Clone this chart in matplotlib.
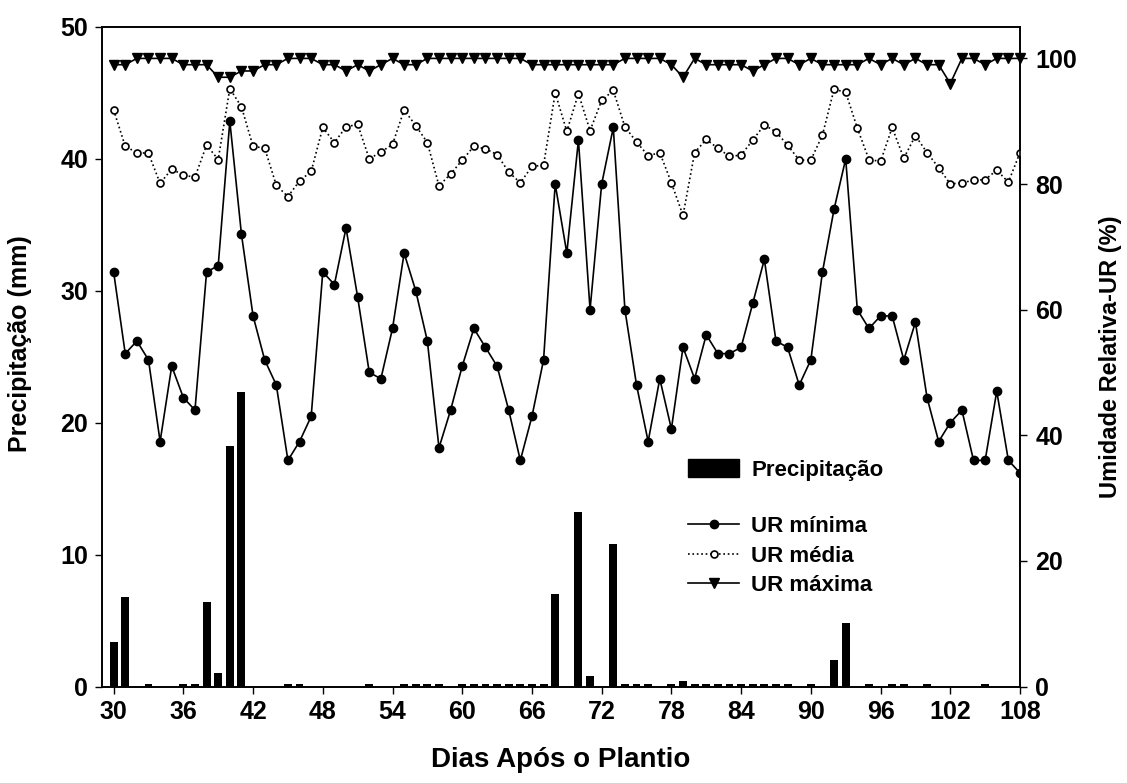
import matplotlib
matplotlib.use("Agg")
import matplotlib.pyplot as plt
from matplotlib.patches import Patch
from matplotlib.lines import Line2D
import numpy as np

plt.rcParams['font.family'] = ['Liberation Sans', 'DejaVu Sans']
plt.rcParams['font.weight'] = 'bold'

days = list(range(30, 109))

precip = [3.4, 6.8, 0, 0.2, 0, 0, 0.2, 0.2, 6.4, 1.0,   # 30-39
          18.2, 22.3, 0, 0, 0, 0.2, 0.2, 0, 0, 0,        # 40-49
          0, 0, 0.2, 0, 0, 0.2, 0.2, 0.2, 0.2, 0,        # 50-59
          0.2, 0.2, 0.2, 0.2, 0.2, 0.2, 0.2, 0.2, 7.0, 0, # 60-69
          13.2, 0.8, 0, 10.8, 0.2, 0.2, 0.2, 0, 0.2, 0.4, # 70-79
          0.2, 0.2, 0.2, 0.2, 0.2, 0.2, 0.2, 0.2, 0.2, 0, # 80-89
          0.2, 0, 2.0, 4.8, 0, 0.2, 0, 0.2, 0.2, 0,       # 90-99
          0.2, 0, 0, 0, 0, 0.2, 0, 0, 0]                 # 100-108

ur_min = [66, 53, 55, 52, 39, 51, 46, 44, 66, 67,
          90, 72, 59, 52, 48, 36, 39, 43, 66, 64,
          73, 62, 50, 49, 57, 69, 63, 55, 38, 44,
          51, 57, 54, 51, 44, 36, 43, 52, 80, 69,
          87, 60, 80, 89, 60, 48, 39, 49, 41, 54,
          49, 56, 53, 53, 54, 61, 68, 55, 54, 48,
          52, 66, 76, 84, 60, 57, 59, 59, 52, 58,
          46, 39, 42, 44, 36, 36, 47, 36, 34]

ur_med = [91.8, 86.0, 85.0, 84.9, 80.1, 82.4, 81.4, 81.1, 86.2, 83.9,
          95.2, 92.3, 86.0, 85.7, 79.8, 78.0, 80.5, 82.0, 89.0, 86.6,
          89.1, 89.5, 84.0, 85.1, 86.3, 91.8, 89.3, 86.6, 79.7, 81.6,
          83.8, 86.0, 85.6, 84.7, 81.9, 80.2, 82.8, 83.0, 94.5, 88.4,
          94.4, 88.5, 93.3, 94.9, 89.1, 86.7, 84.5, 85.0, 80.2, 75.0,
          85.0, 87.1, 85.7, 84.4, 84.6, 87.0, 89.4, 88.3, 86.2, 83.8,
          83.8, 87.8, 95.1, 94.6, 88.9, 83.9, 83.6, 89.0, 84.1, 87.7,
          85.0, 82.6, 80.0, 80.2, 80.6, 80.7, 82.2, 80.3, 85.0]

ur_max = [99, 99, 100, 100, 100, 100, 99, 99, 99, 97,
          97, 98, 98, 99, 99, 100, 100, 100, 99, 99,
          98, 99, 98, 99, 100, 99, 99, 100, 100, 100,
          100, 100, 100, 100, 100, 100, 99, 99, 99, 99,
          99, 99, 99, 99, 100, 100, 100, 100, 99, 97,
          100, 99, 99, 99, 99, 98, 99, 100, 100, 99,
          100, 99, 99, 99, 99, 100, 99, 100, 99, 100,
          99, 99, 96, 100, 100, 99, 100, 100, 100]

x_ticks = list(range(30, 109, 6))
left_ticks = [0, 10, 20, 30, 40, 50]
right_ticks = [0, 20, 40, 60, 80, 100]

TICK_FS = 18
fig = plt.figure(figsize=(11.27, 7.83), dpi=100)
ax = fig.add_axes([102/1127, 1 - 686.5/783, (1020-102)/1127, (686.5-27)/783])
ax.bar(days, precip, width=0.68, color='black', zorder=2)
ax.set_xlim(29, 108)
ax.set_ylim(0, 50)
ax.set_xticks(x_ticks)
ax.set_yticks(left_ticks)
ax.tick_params(direction='out', length=5, width=1, labelsize=TICK_FS, pad=5)
for lab in ax.get_xticklabels() + ax.get_yticklabels():
    lab.set_fontweight('bold')
ax.set_xlabel('Dias Após o Plantio', fontsize=20, fontweight='bold', labelpad=16)
ax.set_ylabel('Precipitação (mm)', fontsize=18, fontweight='bold')
ax.yaxis.set_label_coords(-0.076, 0.52)

ax2 = ax.twinx()
ax2.set_ylim(0, 105)
ax2.set_yticks(right_ticks)
ax2.plot(days, ur_min, '-', color='black', lw=1.2, marker='o', ms=6, mfc='black', mec='black')
ax2.plot(days, ur_med, ':', color='black', lw=1.2, marker='o', ms=5, mfc='white', mec='black', mew=1.2)
ax2.plot(days, ur_max, '-', color='black', lw=1.2, marker='v', ms=7, mfc='black', mec='black', clip_on=False)
ax2.tick_params(direction='out', length=5, width=1, labelsize=TICK_FS, pad=6)
for lab in ax2.get_yticklabels():
    lab.set_fontweight('bold')
ax2.set_ylabel('Umidade Relativa-UR (%)', fontsize=17, fontweight='bold', labelpad=16)
ax2.set_xlim(29, 108)

for a in (ax, ax2):
    for s in a.spines.values():
        s.set_linewidth(1.2)

LEG_FS = 16
h1 = [Patch(facecolor='black', edgecolor='black')]
leg1 = ax2.legend(h1, ['Precipitação'], loc='center left',
                  bbox_to_anchor=(668/1127, 1 - 470/783), bbox_transform=fig.transFigure,
                  frameon=False, handlelength=2.3, handleheight=0.9, handletextpad=0.55,
                  prop={'weight': 'bold', 'size': LEG_FS})
ax2.add_artist(leg1)
h2 = [Line2D([], [], color='black', lw=1.2, marker='o', ms=6),
      Line2D([], [], color='black', lw=1.2, ls=':', marker='o', ms=5, mfc='white', mew=1.2),
      Line2D([], [], color='black', lw=1.2, marker='v', ms=7)]
leg2 = ax2.legend(h2, ['UR mínima', 'UR média', 'UR máxima'], loc='center left',
                  bbox_to_anchor=(668/1127, 1 - 556/783), bbox_transform=fig.transFigure,
                  frameon=False, handlelength=2.3, handletextpad=0.55, labelspacing=0.38,
                  prop={'weight': 'bold', 'size': LEG_FS})

fig.savefig('out.png', dpi=100)
